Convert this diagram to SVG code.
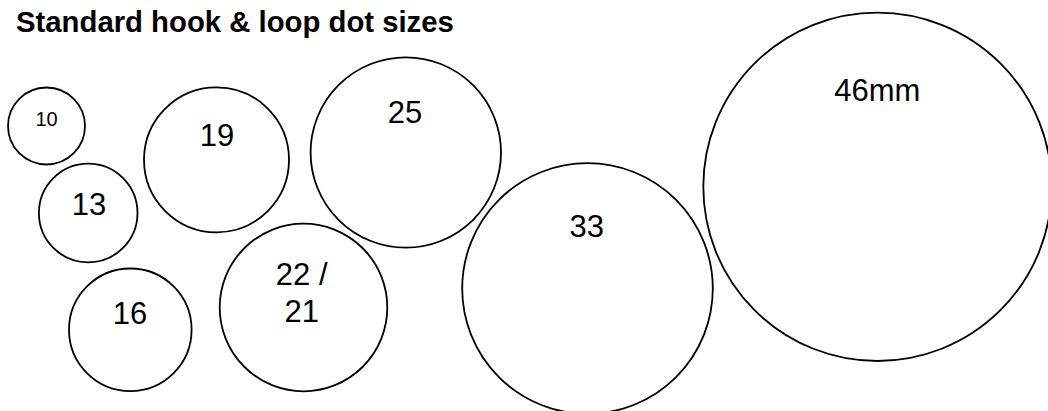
<svg xmlns="http://www.w3.org/2000/svg" width="1048" height="411" viewBox="0 0 1048 411">
<style>
.dot{fill:#fff;stroke:#000;stroke-width:1.8}
.lbl{font-family:"Liberation Sans",Arial,sans-serif;font-size:31px;fill:#000;text-anchor:middle}
.title{font-family:"Liberation Sans",Arial,sans-serif;font-size:29.3px;font-weight:bold;fill:#000}
</style>
<rect width="1048" height="411" fill="#fff"/>
<text class="title" x="16" y="32">Standard hook &amp; loop dot sizes</text>
<g id="dot10"><circle class="dot" cx="46.5" cy="126" r="38.5"/><text class="lbl" x="46.5" y="126" style="font-size:20px">10</text></g>
<g id="dot13"><circle class="dot" cx="88.2" cy="213" r="49.3"/><text class="lbl" x="89" y="215">13</text></g>
<g id="dot16"><circle class="dot" cx="130.3" cy="329.8" r="61.3"/><text class="lbl" x="130" y="324">16</text></g>
<g id="dot19"><circle class="dot" cx="216.5" cy="159.8" r="72.5"/><text class="lbl" x="217" y="146">19</text></g>
<g id="dot22"><circle class="dot" cx="303.5" cy="307.5" r="83.8"/><text class="lbl" x="301.7" y="285">22 /</text><text class="lbl" x="301.7" y="322.3">21</text></g>
<g id="dot25"><circle class="dot" cx="405.8" cy="152.5" r="95.2"/><text class="lbl" x="405" y="122.7">25</text></g>
<g id="dot33"><circle class="dot" cx="587.5" cy="288.5" r="125.3"/><text class="lbl" x="586.7" y="237.3">33</text></g>
<g id="dot46"><circle class="dot" cx="877.5" cy="186.8" r="174.2"/><text class="lbl" x="877.3" y="100.7">46mm</text></g>
<g id="connectors"/>
</svg>
